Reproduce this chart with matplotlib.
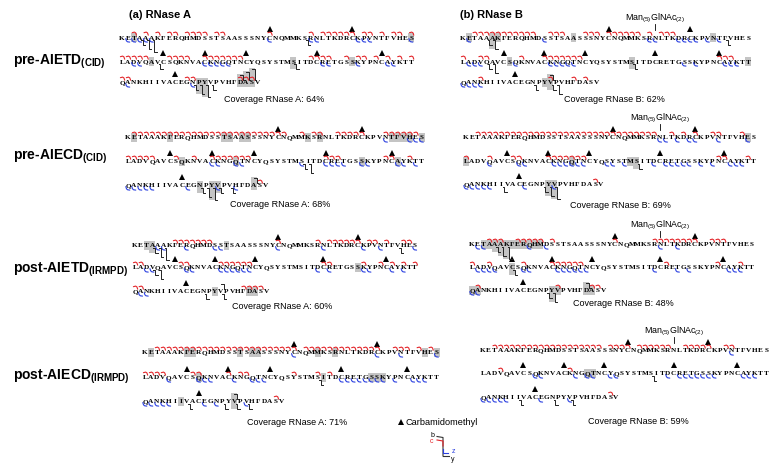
import matplotlib
matplotlib.use("Agg")
import matplotlib.pyplot as plt
from matplotlib.patches import Rectangle

plt.rcParams["mathtext.fontset"] = "custom"
plt.rcParams["mathtext.rm"] = "Liberation Sans"
plt.rcParams["mathtext.it"] = "Liberation Sans"
plt.rcParams["mathtext.bf"] = "Liberation Sans:bold"

# ---------------------------------------------------------------- data
SEQUENCE = ("KETAAAKFERQHMDSSTSAASSSNYCNQMMKSRNLTKDRCKPVNTFVHES"
            "LADVQAVCSQKNVACKNGQTNCYQSYSTMSITDCRETGSSKYPNCAYKTT"
            "QANKHIIVACEGNPYVPVHFDASV")
ROW_LENGTH = 50
GLYCO_SITE = 34
GLYCAN = "Man$_{(5)}$GlNAc$_{(2)}$"

METHODS = ["pre-AIETD", "pre-AIECD", "post-AIETD", "post-AIECD"]
ACTIVATION = ["(CID)", "(CID)", "(IRMPD)", "(IRMPD)"]
PROTEINS = ["RNase A", "RNase B"]

COVERAGE_A = [64, 68, 60, 71]
COVERAGE_B = [62, 69, 48, 59]

# fragment cleavage sites per map (residue numbers): c ions, z ions,
# y ions, b ions and residues with shaded boxes
a_pre_etd_c = [3, 5, 7, 9, 10, 12, 13, 14, 15, 17, 18, 26, 33, 35, 36, 37, 38, 39, 40,
               42, 43, 45, 47, 48, 50, 51, 52, 53, 54, 55, 59, 60, 61, 62, 65, 66, 67,
               68, 69, 70, 71, 83, 84, 85, 86, 89, 91, 92, 94, 96, 98, 100, 101, 102,
               112, 113, 121, 122, 123]
a_pre_etd_z = [2, 3, 4, 5, 6, 26, 33, 34, 41, 42, 43, 50, 53, 54, 65, 66, 67, 68, 69,
               85, 86, 91, 96, 97, 102, 113]
a_pre_etd_y = [4, 5, 6, 32, 57, 80, 113, 114, 115, 116]
a_pre_etd_b = [121, 122, 123]
a_pre_etd_grey = [3, 50, 56, 80, 90, 114, 115, 121, 122, 123]

a_pre_ecd_c = [2, 3, 4, 5, 6, 7, 8, 9, 10, 11, 12, 13, 14, 15, 16, 17, 18, 19, 20, 21,
               22, 23, 24, 25, 26, 27, 30, 32, 33, 36, 37, 38, 39, 40, 44, 45, 46, 47,
               48, 49, 51, 52, 53, 54, 55, 59, 62, 65, 66, 67, 68, 69, 70, 71, 84, 85,
               86, 94, 95, 98, 123]
a_pre_ecd_z = [44, 48, 49, 50, 65, 66, 69, 70, 80, 84, 85, 86, 87, 90, 91, 96, 97, 99,
               101, 102, 103, 104, 105, 111, 116, 119]
a_pre_ecd_y = [80, 81, 113, 114, 115, 116, 118]
a_pre_ecd_b = [122]
a_pre_ecd_grey = [2, 8, 17, 18, 20, 21, 31, 33, 45, 46, 47, 48, 50, 60, 69, 90, 96,
                  113, 115, 116, 122]

a_post_etd_c = [8, 9, 10, 11, 12, 13, 14, 26, 33, 35, 36, 37, 38, 39, 40, 42, 43, 45,
                48, 49, 51, 52, 59, 60, 66, 67, 68, 69, 70, 71, 84, 85, 91, 94, 96, 98,
                100, 101, 102, 120, 121, 122, 123]
a_post_etd_z = [5, 6, 10, 15, 16, 26, 34, 41, 44, 50, 53, 54, 60, 61, 66, 67, 68, 69,
                70, 71, 83, 85, 91, 92, 96, 98, 102, 103]
a_post_etd_y = [4, 5, 6, 47, 54, 55, 113, 116]
a_post_etd_b = [116]
a_post_etd_grey = [3, 4, 17, 90, 115, 121, 122]

a_post_ecd_c = [3, 4, 5, 6, 7, 8, 9, 10, 11, 12, 13, 14, 15, 16, 17, 18, 19, 20, 21, 22,
                23, 24, 25, 26, 28, 29, 30, 31, 32, 33, 34, 35, 36, 37, 38, 39, 40, 43,
                44, 45, 47, 49, 51, 52, 53, 54, 59, 60, 65, 67, 68, 76, 80, 82, 123]
a_post_ecd_z = [26, 40, 44, 50, 55, 60, 61, 62, 66, 69, 70, 71, 84, 85, 86, 87, 88, 89,
                90, 91, 93, 96, 97, 98, 101, 102, 103, 104, 105, 111, 113, 118]
a_post_ecd_y = [80, 108, 114, 116, 118]
a_post_ecd_b = [116]
a_post_ecd_grey = [2, 8, 9, 17, 19, 20, 30, 33, 48, 50, 60, 81, 89, 90, 91, 107, 116]

b_pre_etd_c = [3, 4, 5, 6, 7, 8, 9, 10, 11, 12, 13, 16, 17, 18, 22, 23, 24, 26, 27, 28,
               29, 30, 31, 33, 35, 36, 37, 51, 54, 55, 61, 65, 66, 67, 68, 69, 70, 71,
               95, 96, 97, 104, 116, 120, 122]
b_pre_etd_z = [2, 15, 33, 34, 38, 39, 40, 41, 43, 45, 52, 53, 54, 60, 66, 67, 68, 69,
               70, 89, 91, 96, 97, 98, 101, 102, 103, 104]
b_pre_etd_y = [5, 6, 46, 55, 56, 80, 113, 116, 117]
b_pre_etd_b = [116]
b_pre_etd_grey = [2, 6, 7, 20, 44, 59, 80, 100, 115, 116]

b_pre_ecd_c = [3, 4, 5, 6, 7, 8, 9, 10, 11, 12, 13, 14, 15, 16, 17, 18, 19, 20, 21, 22,
               23, 24, 25, 26, 27, 28, 29, 30, 31, 32, 33, 36, 38, 40, 43, 44, 48, 51,
               55, 59, 60, 65, 66, 67, 68, 69, 70, 71, 94, 95, 99, 123]
b_pre_ecd_z = [34, 35, 37, 39, 40, 44, 49, 55, 60, 61, 66, 67, 68, 69, 70, 71, 75, 76,
               78, 83, 85, 86, 87, 88, 89, 91, 93, 96, 97, 98, 101, 102, 103, 104, 105,
               111, 116]
b_pre_ecd_y = [80, 107, 114, 115, 116]
b_pre_ecd_b = []
b_pre_ecd_grey = [49, 51, 69, 79, 80, 115, 116]

b_post_etd_c = [4, 5, 6, 9, 10, 11, 12, 13, 15, 26, 33, 34, 35, 36, 37, 38, 39, 40, 43,
                44, 45, 51, 54, 60, 65, 66, 67, 68, 69, 70, 85, 94, 98, 102, 116, 122,
                123]
b_post_etd_z = [2, 3, 11, 14, 34, 37, 52, 53, 54, 55, 60, 61, 66, 67, 68, 69, 70, 71,
                83, 87, 89, 96, 97, 98, 101, 102]
b_post_etd_y = [5, 6, 7, 58, 114, 115]
b_post_etd_b = [121]
b_post_etd_grey = [3, 4, 5, 6, 7, 8, 9, 10, 11, 12, 13, 58, 101, 102, 115, 116, 121,
                   122]

b_post_ecd_c = [3, 4, 5, 6, 7, 8, 9, 10, 11, 12, 13, 14, 15, 16, 17, 18, 19, 20, 21, 23,
                24, 25, 26, 28, 29, 30, 31, 32, 33, 36, 37, 38, 39, 40, 43, 44, 54, 66,
                123]
b_post_ecd_z = [44, 60, 61, 67, 69, 70, 73, 74, 83, 85, 86, 87, 88, 89, 90, 91, 96, 97,
                98, 101, 102, 103, 104, 105, 111, 116]
b_post_ecd_y = [80, 107, 113, 116]
b_post_ecd_b = []
b_post_ecd_grey = [69, 70]

MAPS_A = [
    (a_pre_etd_c, a_pre_etd_z, a_pre_etd_y, a_pre_etd_b, a_pre_etd_grey),
    (a_pre_ecd_c, a_pre_ecd_z, a_pre_ecd_y, a_pre_ecd_b, a_pre_ecd_grey),
    (a_post_etd_c, a_post_etd_z, a_post_etd_y, a_post_etd_b, a_post_etd_grey),
    (a_post_ecd_c, a_post_ecd_z, a_post_ecd_y, a_post_ecd_b, a_post_ecd_grey),
]
MAPS_B = [
    (b_pre_etd_c, b_pre_etd_z, b_pre_etd_y, b_pre_etd_b, b_pre_etd_grey),
    (b_pre_ecd_c, b_pre_ecd_z, b_pre_ecd_y, b_pre_ecd_b, b_pre_ecd_grey),
    (b_post_etd_c, b_post_etd_z, b_post_etd_y, b_post_etd_b, b_post_etd_grey),
    (b_post_ecd_c, b_post_ecd_z, b_post_ecd_y, b_post_ecd_b, b_post_ecd_grey),
]

# ---------------------------------------------------------------- layout (pixels)
W, H = 770, 464
RED, BLUE, SHADE = "#e3262b", "#2a3fe0", "#c4c4c4"
SEQ_FONT = dict(family="Liberation Serif", fontweight="bold", fontsize=5.2)

# (first residue x, residue pitch, row y's, coverage label position)
LAYOUT_A = [(122, 5.90, (38, 62, 83), (274, 99)),
            (128, 5.99, (138, 162, 186), (280, 205)),
            (135, 5.71, (246, 268, 292), (282, 307)),
            (145, 5.95, (353, 378, 402), (297, 423))]
LAYOUT_B = [(463, 5.82, (38, 62, 83), (614, 99)),
            (466, 5.87, (138, 162, 185), (620, 206)),
            (472, 5.71, (245, 268, 291), (623, 304)),
            (483, 5.78, (351, 374, 398), (638, 422))]
LABEL_Y = [62, 157, 270, 377]

fig = plt.figure(figsize=(W / 100, H / 100), dpi=100)
ax = fig.add_axes([0, 0, 1, 1])
ax.set_xlim(0, W)
ax.set_ylim(H, 0)
ax.axis("off")


def depths(sites):
    out, prev, d = {}, None, 0
    for s in sorted(sites):
        d = d + 1 if prev is not None and s == prev + 1 else 0
        out[s] = d % 3
        prev = s
    return out


def draw_map(x0, dx, rows, sites, coverage, cov_xy, protein, glycan):
    c_sites, z_sites, y_sites, b_sites, grey = sites
    yd, bd = depths(y_sites), depths(b_sites)

    def pos(i):
        r, k = divmod(i - 1, ROW_LENGTH)
        return x0 + k * dx, rows[r]

    for i in grey:
        x, y = pos(i)
        top, bot = y - 4.2, y + 4.6
        if i in yd:
            bot = y + 8 + yd[i] * 3.5
        if i in bd:
            top = y - 8 - bd[i] * 3
        ax.add_patch(Rectangle((x - dx / 2, top), dx, bot - top,
                               facecolor=SHADE, edgecolor="none", zorder=1))

    for i, aa in enumerate(SEQUENCE, start=1):
        x, y = pos(i)
        ax.text(x, y, aa, ha="center", va="center", zorder=3, **SEQ_FONT)
        if aa == "C":
            ax.plot(x, y - 8.5, marker="^", ms=3.8, color="black",
                    markeredgewidth=0, zorder=3)

    for i in c_sites:
        x, y = pos(i)
        ax.plot([x - 1.6, x + 0.6, x + 1.9, x + 2.7], [y - 4.3, y - 4.9, y - 4.1, y - 1.8],
                color=RED, lw=0.8, solid_capstyle="round", zorder=4)
    for i in z_sites:
        x, y = pos(i)
        ax.plot([x - 2.2, x - 1.5, x - 0.4, x + 1.8], [y + 1.6, y + 3.8, y + 4.8, y + 5.1],
                color=BLUE, lw=0.8, solid_capstyle="round", zorder=4)
    for i, d in yd.items():
        x, y = pos(i)
        xc = x + dx / 2
        yb = y + 8 + d * 3.5
        ax.plot([xc - 1.6, xc, xc, xc + 2.6], [y + 2.6, y + 2.6, yb, yb],
                color="#222222", lw=0.7, zorder=4)
    for i, d in bd.items():
        x, y = pos(i)
        xc = x + dx / 2
        yt = y - 7 - d * 3
        ax.plot([xc - 2.8, xc, xc, xc + 1.2], [yt, yt, y - 2.2, y - 2.2],
                color="#222222", lw=0.7, zorder=4)

    ax.text(cov_xy[0], cov_xy[1], f"Coverage {protein}: {coverage}%",
            ha="center", va="center", fontsize=6.5, family="Liberation Sans")

    if glycan:
        x, y = pos(GLYCO_SITE)
        ax.plot([x, x], [y - 13, y - 7], color="black", lw=0.6)
        ax.text(x, y - 19.5, GLYCAN, ha="center", va="center", fontsize=6.4,
                family="Liberation Sans")


for k in range(4):
    x0, dx, rows, cov_xy = LAYOUT_A[k]
    draw_map(x0, dx, rows, MAPS_A[k], COVERAGE_A[k], cov_xy, PROTEINS[0], False)
    x0, dx, rows, cov_xy = LAYOUT_B[k]
    draw_map(x0, dx, rows, MAPS_B[k], COVERAGE_B[k], cov_xy, PROTEINS[1], True)
    ax.text(13, LABEL_Y[k], METHODS[k] + "$_{\\mathbf{" + ACTIVATION[k] + "}}$",
            ha="left", va="center", fontsize=10, fontweight="bold",
            family="Liberation Sans")

ax.text(129, 15, "(a) " + PROTEINS[0], ha="left", va="center", fontsize=8,
        fontweight="bold", family="Liberation Sans")
ax.text(460, 15, "(b) " + PROTEINS[1], ha="left", va="center", fontsize=8,
        fontweight="bold", family="Liberation Sans")

# legend: carbamidomethyl mark and fragment-ion key
ax.plot(401, 423, marker="^", ms=4.2, color="black", markeredgewidth=0)
ax.text(405, 423, "Carbamidomethyl", ha="left", va="center", fontsize=6.6,
        family="Liberation Sans")
ax.text(432, 436, "b", ha="center", va="center", fontsize=5, family="Liberation Sans")
ax.text(432, 442, "c", ha="center", va="center", fontsize=5, color=RED,
        family="Liberation Sans")
ax.plot([437, 443, 443], [437.5, 438.5, 457], color="#333333", lw=0.8)
ax.plot([437, 443, 443], [441, 442, 447], color=RED, lw=0.8)
ax.plot([443, 443, 448], [450, 454, 454], color=BLUE, lw=0.8)
ax.plot([443, 449], [457, 457], color="#333333", lw=0.8)
ax.text(453, 452, "z", ha="center", va="center", fontsize=5, color=BLUE,
        family="Liberation Sans")
ax.text(453, 459.5, "y", ha="center", va="center", fontsize=5, family="Liberation Sans")

fig.savefig("out.png", dpi=100)
